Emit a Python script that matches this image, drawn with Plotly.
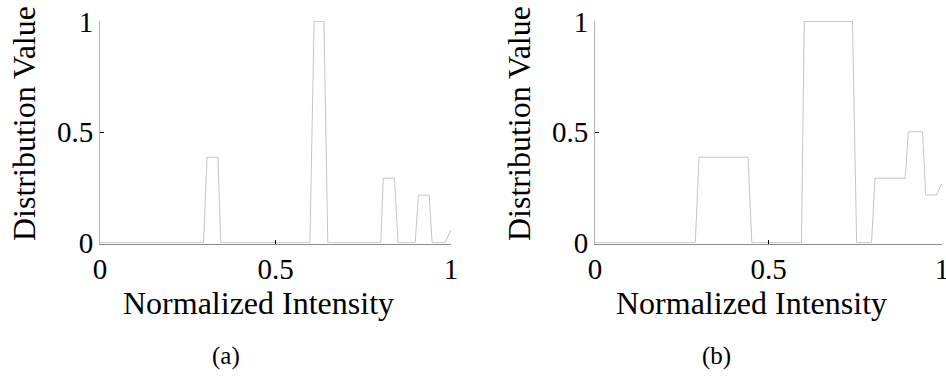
import plotly.graph_objects as go

# Panel (a) breakpoints
xa = [0, 0.295, 0.305, 0.336, 0.344, 0.598, 0.610, 0.638, 0.649, 0.800, 0.807,
      0.839, 0.849, 0.898, 0.907, 0.938, 0.946, 0.983, 1.0]
ya = [0, 0, 0.386, 0.386, 0, 0, 1, 1, 0, 0, 0.291, 0.291, 0, 0, 0.215, 0.215,
      0, 0, 0.055]

# Panel (b) breakpoints
xb = [0, 0.289, 0.300, 0.441, 0.452, 0.595, 0.603, 0.742, 0.754, 0.797, 0.807,
      0.894, 0.903, 0.944, 0.953, 0.984, 0.999]
yb = [0, 0, 0.386, 0.386, 0, 0, 1, 1, 0, 0, 0.291, 0.291, 0.501, 0.501, 0.215,
      0.215, 0.266]

tick_vals = [0, 0.5, 1]
tick_text = ["0", "0.5", "1"]
x_title = "Normalized Intensity"
y_title = "Distribution Value"
panel_labels = ["(a)", "(b)"]

W, H = 946, 377
LINE = "#c6c6c6"
FONT = "Liberation Serif"

fig = go.Figure()
fig.add_trace(go.Scatter(x=xa, y=ya, mode="lines", line=dict(color=LINE, width=1),
                         xaxis="x", yaxis="y", showlegend=False, hoverinfo="skip"))
fig.add_trace(go.Scatter(x=xb, y=yb, mode="lines", line=dict(color=LINE, width=1),
                         xaxis="x2", yaxis="y2", showlegend=False, hoverinfo="skip"))

ydom = [(H - 243.5) / H, (H - 20.5) / H]
axis_common = dict(
    tickmode="array", tickvals=tick_vals, ticktext=tick_text,
    ticks="inside", ticklen=4, tickwidth=1, tickcolor="black",
    showgrid=False, zeroline=False, showline=True, automargin=False,
    ticklabeloverflow="allow",
    tickfont=dict(family=FONT, size=29, color="black"),
)

fig.update_layout(
    width=W, height=H,
    margin=dict(l=0, r=0, t=0, b=0, autoexpand=False),
    paper_bgcolor="white", plot_bgcolor="white",
    xaxis=dict(domain=[100 / W, 451 / W], range=[0, 1], anchor="y",
               linecolor="#8c8c8c", **axis_common),
    yaxis=dict(domain=ydom, range=[-0.004, 1.004], anchor="x",
               linecolor="#b4b4b4", **axis_common),
    xaxis2=dict(domain=[595 / W, 942 / W], range=[0, 1], anchor="y2",
                linecolor="#8c8c8c", **axis_common),
    yaxis2=dict(domain=ydom, range=[-0.004, 1.004], anchor="x2",
                linecolor="#b4b4b4", **axis_common),
)

annots = []
for cx, ycx, lab_x, lab in [(258, 24, 226, panel_labels[0]), (751, 519, 716, panel_labels[1])]:
    annots.append(dict(x=cx / W, y=(H - 303) / H, xref="paper", yref="paper",
                       text=x_title, showarrow=False, xanchor="center", yanchor="middle",
                       font=dict(family=FONT, size=32, color="black")))
    annots.append(dict(x=ycx / W, y=(H - 124) / H, xref="paper", yref="paper",
                       text=y_title, textangle=-90, showarrow=False,
                       xanchor="center", yanchor="middle",
                       font=dict(family=FONT, size=32, color="black")))
    annots.append(dict(x=lab_x / W, y=(H - 356) / H, xref="paper", yref="paper",
                       text=lab, showarrow=False, xanchor="center", yanchor="middle",
                       font=dict(family=FONT, size=25, color="black")))
fig.update_layout(annotations=annots)

fig.write_html("out.html")
